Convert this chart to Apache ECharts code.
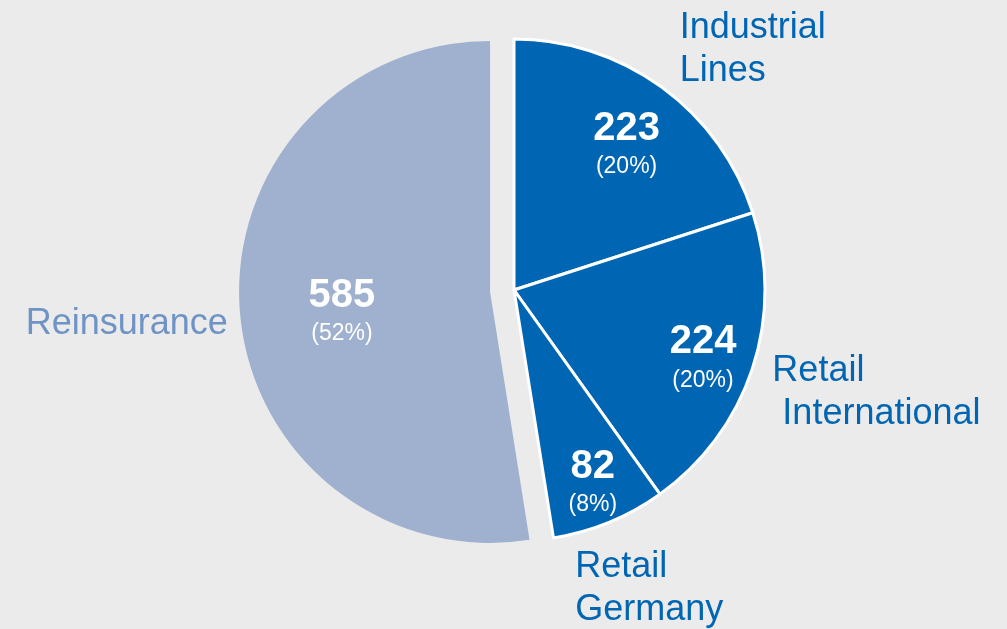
<!DOCTYPE html>
<html>
<head>
<meta charset="utf-8">
<script src="https://cdn.jsdelivr.net/npm/echarts@6/dist/echarts.min.js"></script>
<style>
  html, body { margin: 0; padding: 0; background: #ebebeb; }
  #chart { width: 1007px; height: 629px; }
</style>
</head>
<body>
<div id="chart"></div>
<script>
// segment data (EUR m)
const segments = ['Industrial\nLines', 'Retail\n International', 'Retail\nGermany', 'Reinsurance']
const values = [223, 224, 82, 585]
const shares = ['20%', '20%', '8%', '52%']

const BLUE = '#0066b3'
const LIGHT = '#9fb1cf'
const FONT = '"Liberation Sans", Arial, sans-serif'

// label nudges relative to echarts default positions
const innerShift = [[37, -41], [67, 28], [30, 74], [-20, 10]]
const outerShift = [[13, -37], [15, 24], [-39, 66], [-7, 12]]

const chart = echarts.init(document.getElementById('chart'))

const pieBase = {
  type: 'pie',
  center: [514, 290],
  radius: 251,
  startAngle: 90,
  clockwise: true,
  selectedMode: 'single',
  selectedOffset: 24,
  avoidLabelOverlap: false,
  animation: false,
  emphasis: { disabled: true }
}

chart.setOption({
  backgroundColor: '#ebebeb',
  textStyle: { fontFamily: FONT },
  series: [
    {
      ...pieBase,
      name: 'values',
      z: 2,
      label: {
        show: true,
        position: 'inside',
        fontFamily: FONT,
        formatter: p => '{v|' + p.value + '}\n{p|(' + shares[p.dataIndex] + ')}',
        rich: {
          v: { color: '#fff', fontSize: 40, fontWeight: 'bold', fontFamily: FONT, lineHeight: 44 },
          p: { color: '#fff', fontSize: 23, fontFamily: FONT, lineHeight: 32 }
        }
      },
      labelLine: { show: false },
      labelLayout: p => ({ dx: innerShift[p.dataIndex][0], dy: innerShift[p.dataIndex][1] }),
      data: values.map((v, i) => ({
        name: segments[i],
        value: v,
        selected: i === 3,
        itemStyle: i === 3
          ? { color: LIGHT, borderWidth: 0 }
          : { color: BLUE, borderColor: '#fff', borderWidth: 3 }
      }))
    },
    {
      ...pieBase,
      name: 'names',
      silent: true,
      z: 1,
      label: {
        show: true,
        position: 'outside',
        alignTo: 'none',
        fontFamily: FONT,
        fontSize: 36,
        lineHeight: 43,
        formatter: p => p.name
      },
      labelLine: { show: false, length: 0, length2: 0 },
      labelLayout: p => ({ dx: outerShift[p.dataIndex][0], dy: outerShift[p.dataIndex][1] }),
      data: values.map((v, i) => ({
        name: segments[i],
        value: v,
        selected: i === 3,
        itemStyle: { color: 'rgba(0,0,0,0)', borderWidth: 0 },
        label: { color: i === 3 ? '#7093c5' : BLUE }
      }))
    }
  ]
})

window.addEventListener('resize', () => chart.resize())
</script>
</body>
</html>
